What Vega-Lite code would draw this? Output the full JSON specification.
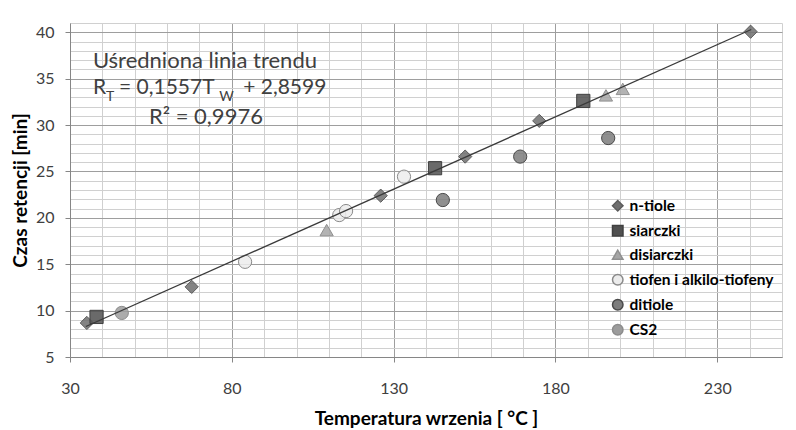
{
  "$schema": "https://vega.github.io/schema/vega-lite/v6.json",
  "width": 712,
  "height": 334,
  "autosize": {"type": "none"},
  "padding": {"left": 70, "top": 23, "right": 14, "bottom": 73},
  "background": "white",
  "config": {"font": "Lato", "view": {"stroke": null}},
  "resolve": {"axis": {"x": "independent", "y": "independent"}},
  "datasets": {
    "punkty": [
      {"grupa": "n-tiole", "T": 35.2, "R": 8.67},
      {"grupa": "n-tiole", "T": 67.6, "R": 12.56},
      {"grupa": "n-tiole", "T": 126.0, "R": 22.39},
      {"grupa": "n-tiole", "T": 152.1, "R": 26.6},
      {"grupa": "n-tiole", "T": 175.0, "R": 30.45},
      {"grupa": "n-tiole", "T": 240.3, "R": 40.06},
      {"grupa": "siarczki", "T": 38.2, "R": 9.32},
      {"grupa": "siarczki", "T": 142.8, "R": 25.35},
      {"grupa": "siarczki", "T": 188.6, "R": 32.6},
      {"grupa": "disiarczki", "T": 109.3, "R": 18.68},
      {"grupa": "disiarczki", "T": 195.6, "R": 33.2},
      {"grupa": "disiarczki", "T": 200.8, "R": 33.9},
      {"grupa": "tiofen i alkilo-tiofeny", "T": 84.1, "R": 15.26},
      {"grupa": "tiofen i alkilo-tiofeny", "T": 113.2, "R": 20.3},
      {"grupa": "tiofen i alkilo-tiofeny", "T": 115.3, "R": 20.73},
      {"grupa": "tiofen i alkilo-tiofeny", "T": 133.2, "R": 24.44},
      {"grupa": "ditiole", "T": 145.2, "R": 21.92},
      {"grupa": "ditiole", "T": 169.1, "R": 26.6},
      {"grupa": "ditiole", "T": 196.3, "R": 28.6},
      {"grupa": "CS2", "T": 46.0, "R": 9.75}
    ],
    "trend": [
      {"T": 34.9, "R": 8.29},
      {"T": 240.5, "R": 40.3}
    ]
  },
  "layer": [
    {
      "data": {"name": "punkty"},
      "mark": {"type": "point", "filled": true, "size": 175, "strokeWidth": 1, "fillOpacity": 0.85, "opacity": 1},
      "encoding": {
        "x": {
          "field": "T", "type": "quantitative",
          "scale": {"domain": [30, 250], "nice": false, "zero": false},
          "axis": {
            "values": [30, 80, 130, 180, 230],
            "tickCount": 100,
            "format": "d",
            "title": "Temperatura wrzenia [ °C ]",
            "titleFontSize": 19, "titleFontWeight": "bold", "titleColor": "#000000", "titlePadding": 13,
            "labelFontSize": 16, "labelColor": "#404040", "labelPadding": 18,
            "labelOverlap": false, "labelFlush": false, "labelBound": false,
            "grid": true, "gridColor": "#9e9e9e",
            "tickColor": "#868686", "tickSize": 5,
            "domainColor": "#868686"
          }
        },
        "y": {
          "field": "R", "type": "quantitative",
          "scale": {"domain": [5, 41], "nice": false, "zero": false},
          "axis": {
            "values": [5, 10, 15, 20, 25, 30, 35, 40],
            "tickCount": 100,
            "format": "d",
            "title": "Czas retencji [min]",
            "titleFontSize": 19, "titleFontWeight": "bold", "titleColor": "#000000", "titlePadding": 5,
            "labelFontSize": 16, "labelColor": "#404040", "labelPadding": 11,
            "labelOverlap": false, "labelFlush": false, "labelBound": false,
            "grid": true, "gridColor": "#9e9e9e",
            "tickColor": "#868686", "tickSize": 5,
            "domainColor": "#868686"
          }
        },
        "shape": {
          "field": "grupa", "type": "nominal",
          "scale": {
            "domain": ["n-tiole", "siarczki", "disiarczki", "tiofen i alkilo-tiofeny", "ditiole", "CS2"],
            "range": ["diamond", "square", "triangle-up", "circle", "circle", "circle"]
          },
          "legend": {"title": null, "orient": "none", "legendX": 540, "legendY": 175, "padding": 0, "labelFontSize": 15.5, "labelFontWeight": "bold", "labelColor": "#000000", "symbolSize": 110, "rowPadding": 7, "labelOffset": 4}
        },
        "fill": {
          "field": "grupa", "type": "nominal",
          "scale": {
            "domain": ["n-tiole", "siarczki", "disiarczki", "tiofen i alkilo-tiofeny", "ditiole", "CS2"],
            "range": ["#6f6f6f", "#505050", "#a6a6a6", "#ececec", "#7d7d7d", "#9c9c9c"]
          },
          "legend": {"title": null, "orient": "none", "legendX": 540, "legendY": 175, "padding": 0, "labelFontSize": 15.5, "labelFontWeight": "bold", "labelColor": "#000000", "symbolSize": 110, "rowPadding": 7, "labelOffset": 4}
        },
        "stroke": {
          "field": "grupa", "type": "nominal",
          "scale": {
            "domain": ["n-tiole", "siarczki", "disiarczki", "tiofen i alkilo-tiofeny", "ditiole", "CS2"],
            "range": ["#5c5c5c", "#404040", "#909090", "#8a8a8a", "#4a4a4a", "#8c8c8c"]
          },
          "legend": {"title": null, "orient": "none", "legendX": 540, "legendY": 175, "padding": 0, "labelFontSize": 15.5, "labelFontWeight": "bold", "labelColor": "#000000", "symbolSize": 110, "rowPadding": 7, "labelOffset": 4}
        }
      }
    },
    {
      "data": {"name": "trend"},
      "mark": {"type": "line", "color": "#3a3a3a", "strokeWidth": 1.3},
      "encoding": {
        "x": {"field": "T", "type": "quantitative", "axis": null},
        "y": {"field": "R", "type": "quantitative", "axis": null}
      }
    },
    {
      "data": {"values": [
        {"T": 71.7, "R": 36.88, "tekst": "Uśredniona linia trendu"},
        {"T": 72.0, "R": 30.92, "tekst": "R² = 0,9976"}
      ]},
      "mark": {"type": "text", "align": "center", "baseline": "middle", "fontSize": 22, "color": "#404040"},
      "encoding": {
        "x": {
          "field": "T", "type": "quantitative",
          "axis": {
            "orient": "bottom", "zindex": 0,
            "values": [40, 50, 60, 70, 90, 100, 110, 120, 140, 150, 160, 170, 190, 200, 210, 220, 240, 250],
            "tickCount": 100,
            "grid": true, "gridColor": "#d0d0d0",
            "labels": false, "ticks": false, "domain": false, "title": null,
            "minExtent": 0, "maxExtent": 0, "offset": 0
          }
        },
        "y": {
          "field": "R", "type": "quantitative",
          "axis": {
            "orient": "left", "zindex": 0,
            "values": [6, 7, 8, 9, 11, 12, 13, 14, 16, 17, 18, 19, 21, 22, 23, 24, 26, 27, 28, 29, 31, 32, 33, 34, 36, 37, 38, 39, 41],
            "tickCount": 100,
            "grid": true, "gridColor": "#d0d0d0",
            "labels": false, "ticks": false, "domain": false, "title": null,
            "minExtent": 0, "maxExtent": 0, "offset": 0
          }
        },
        "text": {"field": "tekst"}
      }
    },
    {
      "data": {"values": [
        {"T": 37.11, "R": 34.02, "tekst": "R"},
        {"T": 45.14, "R": 34.02, "tekst": "= 0,1557T"},
        {"T": 83.5, "R": 34.02, "tekst": "+ 2,8599"}
      ]},
      "mark": {"type": "text", "align": "left", "baseline": "middle", "fontSize": 21, "color": "#404040"},
      "encoding": {
        "x": {"field": "T", "type": "quantitative", "axis": null},
        "y": {"field": "R", "type": "quantitative", "axis": null},
        "text": {"field": "tekst"}
      }
    },
    {
      "data": {"values": [
        {"T": 41.13, "R": 33.0, "tekst": "T"},
        {"T": 76.1, "R": 33.0, "tekst": "W"}
      ]},
      "mark": {"type": "text", "align": "left", "baseline": "middle", "fontSize": 14, "color": "#404040"},
      "encoding": {
        "x": {"field": "T", "type": "quantitative", "axis": null},
        "y": {"field": "R", "type": "quantitative", "axis": null},
        "text": {"field": "tekst"}
      }
    }
  ]
}
